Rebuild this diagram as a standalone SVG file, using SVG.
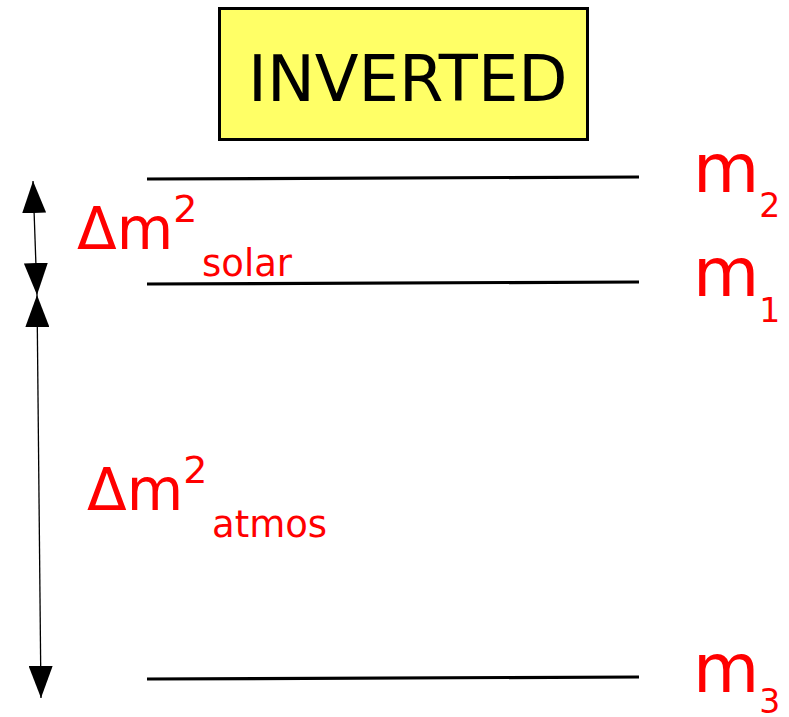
<svg xmlns="http://www.w3.org/2000/svg" width="789" height="717" viewBox="0 0 789 717">
<style>
.lvl{stroke:#000;stroke-width:3.2;fill:none}
.lbl{font-family:"DejaVu Sans",sans-serif;fill:#ff0000}
.arr{stroke:#000;stroke-width:1.3;fill:none;marker-start:url(#ah);marker-end:url(#ah)}
</style>
<defs>
<marker id="ah" viewBox="0 0 32 24" refX="32" refY="12" markerWidth="32" markerHeight="24" markerUnits="userSpaceOnUse" orient="auto-start-reverse">
<path d="M0,0 L32,12 L0,24 z" fill="#000"/>
</marker>
</defs>
<rect width="789" height="717" fill="#fff"/>
<g id="title">
<rect x="219.5" y="8.5" width="368" height="131" fill="#ffff66" stroke="#000" stroke-width="3"/>
<text x="248" y="101" font-family="DejaVu Sans,sans-serif" font-size="64" fill="#000">INVERTED</text>
</g>
<g id="level-m2">
<line class="lvl" x1="147" y1="179" x2="639" y2="177"/>
<text class="lbl" x="693" y="192" font-size="68">m<tspan font-size="33" dy="25">2</tspan></text>
</g>
<g id="level-m1">
<line class="lvl" x1="147" y1="284" x2="639" y2="282"/>
<text class="lbl" x="693" y="296" font-size="68">m<tspan font-size="33" dy="26">1</tspan></text>
</g>
<g id="level-m3">
<line class="lvl" x1="147" y1="679" x2="639" y2="677"/>
<text class="lbl" x="693" y="692" font-size="68">m<tspan font-size="33" dy="21">3</tspan></text>
</g>
<g id="label-solar">
<text class="lbl" x="77" y="249" font-size="58">Δm<tspan font-size="38" dy="-27">2</tspan><tspan font-size="37" dy="54" x="202">solar</tspan></text>
</g>
<g id="label-atmos">
<text class="lbl" x="87" y="510" font-size="58">Δm<tspan font-size="38" dy="-27">2</tspan><tspan font-size="37" dy="54" x="212">atmos</tspan></text>
</g>
<g id="connectors">
<line class="arr" x1="33" y1="181" x2="37" y2="295"/>
<line class="arr" x1="37" y1="295" x2="41" y2="698"/>
</g>
</svg>
